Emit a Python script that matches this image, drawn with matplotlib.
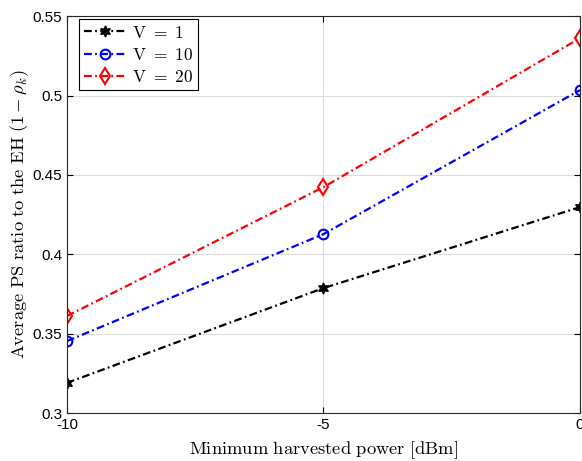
import matplotlib
matplotlib.use("Agg")
import matplotlib.pyplot as plt

x = [-10, -5, 0]
v1 = [0.319, 0.3787, 0.4297]
v10 = [0.3453, 0.4127, 0.5034]
v20 = [0.3611, 0.4423, 0.5361]
labels = [r'$\mathrm{V\ =\ 1}$', r'$\mathrm{V\ =\ 10}$', r'$\mathrm{V\ =\ 20}$']
xticks = [-10, -5, 0]
yticks = [0.3, 0.35, 0.4, 0.45, 0.5, 0.55]

plt.rcParams['mathtext.fontset'] = 'cm'
plt.rcParams['font.family'] = ['Liberation Sans', 'DejaVu Sans']

fig = plt.figure(figsize=(5.82, 4.61), dpi=100)
ax = fig.add_axes([0.115, 0.104, 0.8815, 0.861])

dash = (3.5, 1.5, 0.8, 1.5)
ax.plot(x, v1, color='black', lw=1.6, dashes=dash, marker=(6, 1, 0), ms=8,
        mfc='black', mec='black', label=labels[0])
ax.plot(x, v10, color='blue', lw=1.6, dashes=dash, marker='o', ms=7,
        mfc='none', mec='blue', mew=1.5, label=labels[1])
ax.plot(x, v20, color='red', lw=1.6, dashes=dash, marker='d', ms=8,
        mfc='none', mec='red', mew=1.5, label=labels[2])

ax.set_xlim(-10, 0)
ax.set_ylim(0.3, 0.55)
ax.set_xticks(xticks)
ax.set_xticklabels(['-10', '-5', '0'])
ax.set_yticks(yticks)
ax.set_yticklabels(['0.3', '0.35', '0.4', '0.45', '0.5', '0.55'])
ax.tick_params(direction='in', labelsize=11, length=4, width=0.8, top=True, right=True)
ax.grid(True, color='#dcdcdc', lw=0.8)
for s in ax.spines.values():
    s.set_linewidth(0.8)
    s.set_color('#262626')

ax.set_xlabel(r'$\mathrm{Minimum\ harvested\ power\ [dBm]}$', fontsize=13.3, labelpad=5)
ax.set_ylabel(r'$\mathrm{Average\ PS\ ratio\ to\ the\ EH\ }(1-\rho_k)$', fontsize=13.3, labelpad=1)

leg = ax.legend(loc='upper left', bbox_to_anchor=(0.0234, 0.992), fontsize=12.5,
                fancybox=False, framealpha=1, edgecolor='black', borderaxespad=0,
                handlelength=2.45, handletextpad=0.3, borderpad=0.3, labelspacing=0.35)
leg.get_frame().set_linewidth(0.8)

fig.savefig('out.png', dpi=100)
